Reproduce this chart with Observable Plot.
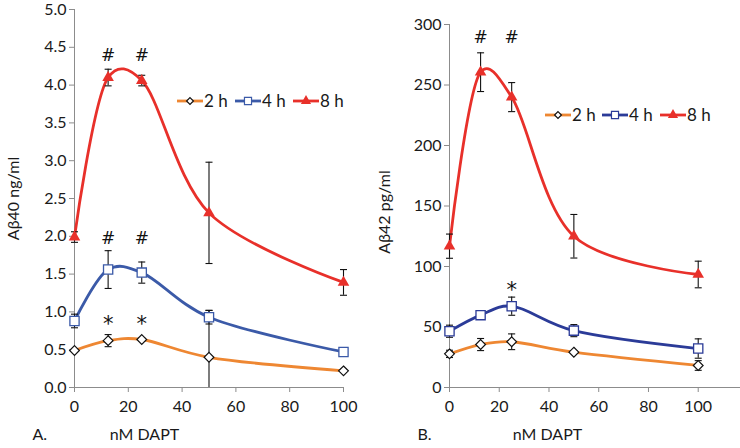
<!DOCTYPE html>
<html><head><meta charset="utf-8">
<script src="https://cdn.jsdelivr.net/npm/d3@7"></script>
<script src="https://cdn.jsdelivr.net/npm/@observablehq/plot@0.6"></script>
<style>
body{margin:0;background:#fff;}
#wrap{position:relative;width:740px;height:448px;font-family:Lato,"Open Sans",sans-serif;}
#a,#b{position:absolute;top:0;}
#a{left:0}#b{left:370px}
</style></head><body><div id="wrap"><div id="a"></div><div id="b"></div></div>
<script>
// ---- data ----
const series = ["2 h", "4 h", "8 h"];
const doses = [0, 12.5, 25, 50, 100];
const xTicks = [0, 20, 40, 60, 80, 100];

// Panel A: Aβ40 ng/ml
const a2h = [0.49, 0.62, 0.635, 0.40, 0.22];
const a2hErr = [0.02, 0.08, 0.02, 0.62, 0.02];
const a4h = [0.88, 1.56, 1.52, 0.93, 0.47];
const a4hErr = [0.09, 0.25, 0.14, 0.09, 0.02];
const a8h = [1.99, 4.10, 4.06, 2.31, 1.39];
const a8hErr = [0.07, 0.11, 0.07, 0.67, 0.17];
const aYTicks = [0, 0.5, 1, 1.5, 2, 2.5, 3, 3.5, 4, 4.5, 5];
const aMarkX = [12.5, 25, 12.5, 25, 12.5, 25];
const aMarkY = [4.39, 4.39, 1.97, 1.97, 0.83, 0.83];
const aMarkT = ["#", "#", "#", "#", "*", "*"];

// Panel B: Aβ42 pg/ml
const b2h = [27.8, 35.5, 37.8, 29.2, 18.2];
const b2hErr = [3, 5, 6.5, 1, 4];
const b4h = [46.5, 59.8, 67.2, 47, 32.2];
const b4hErr = [5, 1, 7.5, 5, 8];
const b8h = [116.8, 260.6, 240, 125, 93.4];
const b8hErr = [10, 16, 12, 18, 11];
const bYTicks = [0, 50, 100, 150, 200, 250, 300];
const bMarkX = [12.5, 25, 25];
const bMarkY = [289, 289, 80];
const bMarkT = ["#", "#", "*"];

const colorsA = ["#EE8732", "#3B5AA8", "#E8302A"];
const colorsB = ["#EE8732", "#2B3B98", "#E8302A"];

function table(vals, errs) {
  return series.flatMap((s, i) => doses.map((d, j) => ({series: s, dose: d, value: vals[i][j], err: errs[i][j]})));
}
const dataA = table([a2h, a4h, a8h], [a2hErr, a4hErr, a8hErr]);
const dataB = table([b2h, b4h, b8h], [b2hErr, b4hErr, b8hErr]);

const cap = {draw(ctx, size) { const r = Math.sqrt(size / Math.PI); ctx.moveTo(-r, 0); ctx.lineTo(r, 0); }};
const ink = "#1a1a1a";
const font = "Lato, 'Open Sans', sans-serif";

function panel(data, opts) {
  const colors = opts.colors;
  const lows = data.filter(d => d.value - d.err >= 0);
  const marks = [
    Plot.ruleX([0], {stroke: "#8c8c8c"}),
    Plot.ruleY([0], {stroke: "#8c8c8c"}),
    Plot.axisY({ticks: opts.yTicks, tickSize: 5, tickPadding: 3, tickFormat: opts.yFormat, label: null, stroke: "#8c8c8c", fill: ink, fontSize: 16}),
    Plot.axisX({ticks: xTicks, tickSize: 5, tickPadding: 8, label: null, stroke: "#8c8c8c", fill: ink, fontSize: 16}),
    Plot.line(data, {x: "dose", y: "value", z: "series", stroke: "series", strokeWidth: 2.8, curve: "catmull-rom", tension: 0.25}),
    Plot.ruleX(data, {x: "dose", y1: d => Math.max(0, d.value - d.err), y2: d => d.value + d.err, stroke: "#111", strokeWidth: 1.1}),
    Plot.dot(data, {x: "dose", y: d => d.value + d.err, symbol: cap, r: 3.5, stroke: "#111", strokeWidth: 1.1}),
    Plot.dot(lows, {x: "dose", y: d => d.value - d.err, symbol: cap, r: 3.5, stroke: "#111", strokeWidth: 1.1}),
    Plot.dot(data.filter(d => d.series === "2 h"), {x: "dose", y: "value", symbol: "diamond2", r: 4.4, fill: "white", stroke: "#111", strokeWidth: 1.2}),
    Plot.dot(data.filter(d => d.series === "4 h"), {x: "dose", y: "value", symbol: "square", r: 5.2, fill: "white", stroke: colors[1], strokeWidth: 1.3}),
    Plot.dot(data.filter(d => d.series === "8 h"), {x: "dose", y: "value", symbol: "triangle", r: 4.3, fill: colors[2]}),
    Plot.text(opts.markT, {x: (d, i) => opts.markX[i], y: (d, i) => opts.markY[i], text: d => d, fontSize: d => d === "*" ? 21 : 17, fill: "#111", fontFamily: "'DejaVu Sans', sans-serif"}),
    Plot.text([opts.ylabel], {frameAnchor: "left", textAnchor: "middle", rotate: -90, dx: opts.ylabelDx, dy: opts.ylabelDy, fontSize: 16, fill: ink}),
    Plot.text([opts.tag], {frameAnchor: "bottom-left", textAnchor: "start", dx: opts.tagDx, dy: 52, fontSize: 16, fill: ink}),
    Plot.text(["nM DAPT"], {frameAnchor: "bottom-left", textAnchor: "middle", dx: opts.xlabelDx, dy: 52, fontSize: 16, fill: ink})
  ];
  const p = Plot.plot({
    width: 370, height: 448,
    marginLeft: opts.ml, marginRight: opts.mr, marginTop: opts.mt, marginBottom: 61,
    style: {fontFamily: font, background: "white", overflow: "visible"},
    x: {domain: opts.xDomain},
    y: {domain: opts.yDomain},
    color: {domain: series, range: colors},
    marks
  });
  // legend (inside the plot area)
  const svg = d3.select(p);
  const g = svg.append("g").attr("font-family", font).attr("font-size", 17).attr("fill", ink).attr("text-anchor", "start");
  const syms = [
    {type: d3.symbolDiamond2, size: 30, fill: "white", stroke: "#111"},
    {type: d3.symbolSquare, size: 50, fill: "white", stroke: colors[1]},
    {type: d3.symbolTriangle, size: 45, fill: colors[2], stroke: "none"}
  ];
  series.forEach((s, i) => {
    const x0 = opts.legX[i], y0 = opts.legY;
    g.append("line").attr("x1", x0).attr("x2", x0 + 26).attr("y1", y0).attr("y2", y0).attr("stroke", colors[i]).attr("stroke-width", 2.8);
    g.append("path").attr("d", d3.symbol(syms[i].type, syms[i].size)()).attr("transform", `translate(${x0 + 13},${y0})`)
      .attr("fill", syms[i].fill).attr("stroke", syms[i].stroke).attr("stroke-width", 1.2);
    g.append("text").attr("x", x0 + 27).attr("y", y0).attr("dy", "0.35em").text(s);
  });
  return p;
}

document.getElementById("a").append(panel(dataA, {
  colors: colorsA,
  yTicks: aYTicks, yFormat: d3.format(".1f"), yDomain: [0, 5], xDomain: [0, 100],
  ml: 74, mr: 27, mt: 9,
  markX: aMarkX, markY: aMarkY, markT: aMarkT,
  ylabel: "Aβ40 ng/ml", ylabelDx: -61, ylabelDy: 0,
  tag: "A.", tagDx: -42, xlabelDx: 70,
  legX: [177, 235, 293], legY: 101
}));
document.getElementById("b").append(panel(dataB, {
  colors: colorsB,
  yTicks: bYTicks, yFormat: d3.format("d"), yDomain: [0, 300], xDomain: [0, 117],
  ml: 79, mr: 0, mt: 24,
  markX: bMarkX, markY: bMarkY, markT: bMarkT,
  ylabel: "Aβ42 pg/ml", ylabelDx: -65, ylabelDy: 6,
  tag: "B.", tagDx: -32, xlabelDx: 98,
  legX: [175, 232, 290], legY: 115
}));
</script></body></html>
